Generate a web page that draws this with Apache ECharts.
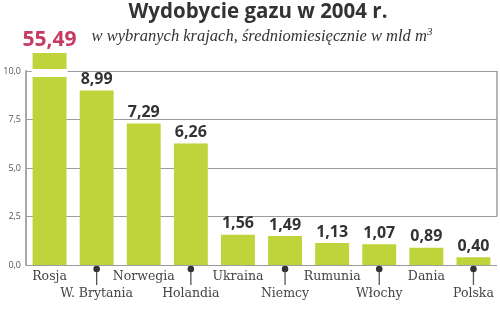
<!DOCTYPE html>
<html>
<head>
<meta charset="utf-8">
<script src="https://cdn.jsdelivr.net/npm/echarts@6/dist/echarts.min.js"></script>
<style>
  html, body { margin: 0; padding: 0; background: #fff; }
  #chart { width: 500px; height: 327px; }
</style>
</head>
<body>
<div id="chart"></div>
<script>
// Monthly average natural gas output in 2004, bn m³
const categories = ['Rosja', 'W. Brytania', 'Norwegia', 'Holandia', 'Ukraina',
                    'Niemcy', 'Rumunia', 'Włochy', 'Dania', 'Polska'];
const values = [55.49, 8.99, 7.29, 6.26, 1.56, 1.49, 1.13, 1.07, 0.89, 0.40];
const yTicks = [0, 2.5, 5, 7.5, 10];

const titleText = 'Wydobycie gazu w 2004 r.';
const subtitleText = 'w wybranych krajach, średniomiesięcznie w mld m';

const Y_MAX = yTicks[yTicks.length - 1];
const BAR_COLOR = '#bfd43a';
const BAR_RATIO = 0.72;
const fmt = v => v.toFixed(2).replace('.', ',');

const chart = echarts.init(document.getElementById('chart'));

chart.setOption({
  animation: false,
  grid: { left: 26, right: 3, top: 71, bottom: 62 },
  xAxis: {
    type: 'category',
    data: categories,
    axisLine: { show: false },
    axisTick: { show: false },
    axisLabel: {
      interval: 0,
      margin: 3,
      fontFamily: 'DejaVu Serif',
      fontSize: 12.5,
      lineHeight: 17,
      color: '#444',
      formatter: (v, i) => (i % 2 ? '\n' + v : v)
    }
  },
  yAxis: {
    type: 'value',
    min: 0,
    max: Y_MAX,
    interval: 2.5,
    axisLine: { show: true, lineStyle: { color: '#a8a8a8', width: 2 } },
    axisTick: { show: false },
    axisLabel: {
      margin: 5,
      fontFamily: 'Open Sans',
      fontSize: 9,
      color: '#555',
      formatter: v => v.toFixed(1).replace('.', ',')
    },
    splitLine: { show: true, lineStyle: { color: '#9c9c9c', width: 1 } }
  },
  series: [
    {
      type: 'bar',
      data: values,
      barCategoryGap: ((1 - BAR_RATIO) * 100) + '%',
      itemStyle: { color: BAR_COLOR },
      clip: true,
      label: {
        show: true,
        position: 'top',
        distance: 3,
        fontFamily: 'Open Sans',
        fontWeight: 'bold',
        fontSize: 16,
        color: '#333',
        formatter: p => (p.value > Y_MAX ? '' : fmt(p.value))
      }
    },
    {
      // broken-axis stub and label for bars that exceed the axis range
      type: 'custom',
      data: values.map((v, i) => [i, v]),
      z: 5,
      renderItem: (params, api) => {
        const v = api.value(1);
        if (v <= Y_MAX) return null;
        const top = api.coord([api.value(0), Y_MAX]);
        const w = api.size([1, 0])[0] * BAR_RATIO;
        const x = top[0] - w / 2;
        return {
          type: 'group',
          children: [
            { type: 'rect', shape: { x: x - 1, y: top[1] - 2, width: w + 2, height: 8 },
              style: { fill: '#fff' } },
            { type: 'rect', shape: { x: x, y: top[1] - 18, width: w, height: 16 },
              style: { fill: BAR_COLOR } },
            { type: 'text', x: top[0], y: top[1] - 20,
              style: { text: fmt(v), textAlign: 'center', textVerticalAlign: 'bottom',
                       fontFamily: 'Open Sans', fontWeight: 'bold', fontSize: 21,
                       fill: '#c63a63' } }
          ]
        };
      }
    },
    {
      // pointer pins for the labels on the lower row
      type: 'custom',
      data: values.map((v, i) => [i, 0]),
      z: 5,
      renderItem: (params, api) => {
        const idx = api.value(0);
        if (idx % 2 === 0) return null;
        const p = api.coord([idx, 0]);
        return {
          type: 'group',
          children: [
            { type: 'line', shape: { x1: p[0], y1: p[1] + 4, x2: p[0], y2: p[1] + 20 },
              style: { stroke: '#555', lineWidth: 1.3 } },
            { type: 'circle', shape: { cx: p[0], cy: p[1] + 4, r: 3.3 },
              style: { fill: '#333' } }
          ]
        };
      }
    }
  ]
});

// headings and the right frame edge between the top gridline and the first gridline
const yTop = chart.convertToPixel({ yAxisIndex: 0 }, Y_MAX);
const yLow = chart.convertToPixel({ yAxisIndex: 0 }, yTicks[1]);
const xRight = chart.getWidth() - 3;
chart.setOption({
  graphic: [
    { type: 'text', x: 258, y: 2,
      style: { text: titleText, textAlign: 'center', fontFamily: 'Open Sans',
               fontWeight: 'bold', fontSize: 20.5, fill: '#333' } },
    { type: 'text', x: 262, y: 27,
      style: { text: subtitleText + '{sup|3}', textAlign: 'center',
               fontFamily: 'Liberation Serif', fontStyle: 'italic',
               fontSize: 16.5, fill: '#333',
               rich: { sup: { fontFamily: 'Liberation Serif', fontStyle: 'italic',
                              fontSize: 11, fill: '#333', verticalAlign: 'top',
                              padding: [0, 0, 8, 0] } } } },
    { type: 'line', shape: { x1: xRight, y1: yTop, x2: xRight, y2: yLow },
      style: { stroke: '#9c9c9c', lineWidth: 1.5 } }
  ]
});
</script>
</body>
</html>
